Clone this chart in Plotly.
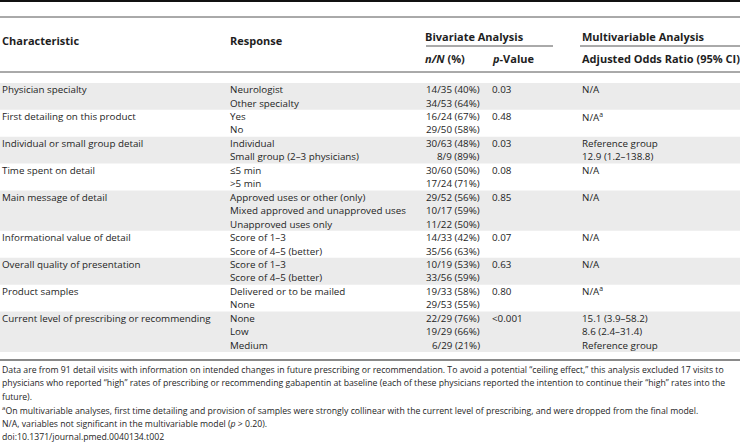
import plotly.graph_objects as go

# ---------------- data ----------------
characteristics = [
    "Physician specialty",
    "First detailing on this product",
    "Individual or small group detail",
    "Time spent on detail",
    "Main message of detail",
    "Informational value of detail",
    "Overall quality of presentation",
    "Product samples",
    "Current level of prescribing or recommending",
]
responses = [
    ["Neurologist", "Other specialty"],
    ["Yes", "No"],
    ["Individual", "Small group (2–3 physicians)"],
    ["≤5 min", "&gt;5 min"],
    ["Approved uses or other (only)", "Mixed approved and unapproved uses", "Unapproved uses only"],
    ["Score of 1–3", "Score of 4–5 (better)"],
    ["Score of 1–3", "Score of 4–5 (better)"],
    ["Delivered or to be mailed", "None"],
    ["None", "Low", "Medium"],
]
n_of_N = [
    ["14/35 (40%)", "34/53 (64%)"],
    ["16/24 (67%)", "29/50 (58%)"],
    ["30/63 (48%)", "8/9 (89%)"],
    ["30/60 (50%)", "17/24 (71%)"],
    ["29/52 (56%)", "10/17 (59%)", "11/22 (50%)"],
    ["14/33 (42%)", "35/56 (63%)"],
    ["10/19 (53%)", "33/56 (59%)"],
    ["19/33 (58%)", "29/53 (55%)"],
    ["22/29 (76%)", "19/29 (66%)", "6/29 (21%)"],
]
p_values = ["0.03", "0.48", "0.03", "0.08", "0.85", "0.07", "0.63", "0.80", "&lt;0.001"]
odds_ratios = [
    ["N/A"],
    ["N/A<sup>a</sup>"],
    ["Reference group", "12.9 (1.2–138.8)"],
    ["N/A"],
    ["N/A"],
    ["N/A"],
    ["N/A"],
    ["N/A<sup>a</sup>"],
    ["15.1 (3.9–58.2)", "8.6 (2.4–31.4)", "Reference group"],
]
header_top = ["Characteristic", "Response", "Bivariate Analysis", "Multivariable Analysis"]
header_sub = ["<i>n/N</i> (%)", "<i>p</i>-Value", "Adjusted Odds Ratio (95% CI)"]
footnotes = [
    "Data are from 91 detail visits with information on intended changes in future prescribing or recommendation. To avoid a potential “ceiling effect,” this analysis excluded 17 visits to",
    "physicians who reported “high” rates of prescribing or recommending gabapentin at baseline (each of these physicians reported the intention to continue their “high” rates into the",
    "future).",
    "<sup>a</sup>On multivariable analyses, first time detailing and provision of samples were strongly collinear with the current level of prescribing, and were dropped from the final model.",
    "N/A, variables not significant in the multivariable model (<i>p</i> &gt; 0.20).",
    "doi:10.1371/journal.pmed.0040134.t002",
]

# ---------------- layout ----------------
W, H = 740, 446
FONT = "Open Sans"
FS = 9.8
FS_HEAD = 11
FS_FOOT = 8.7
TXT = "#1e1e1e"
SHADE = "#ebebeb"

X_CHAR, X_RESP, X_NN_RIGHT, X_P, X_OR = 1, 229, 481, 491, 581
LINE0, PITCH = 89.6, 13.45

fig = go.Figure()
ann = []
shapes = []


def txt(x, y, s, anchor="left", bold=False, size=FS, color=TXT):
    ann.append(dict(x=x, y=y, xref="x", yref="y", text=(f"<b>{s}</b>" if bold else s),
                    showarrow=False, xanchor=anchor, yanchor="middle",
                    font=dict(family=FONT, size=size, color=color), borderpad=0))


# header
txt(X_CHAR, 40, header_top[0], bold=True, size=FS_HEAD)
txt(X_RESP, 40, header_top[1], bold=True, size=FS_HEAD)
txt(424, 36, header_top[2], bold=True, size=FS_HEAD)
txt(X_OR, 36, header_top[3], bold=True, size=FS_HEAD)
txt(424, 58, header_sub[0], bold=True, size=FS_HEAD)
txt(X_P, 58, header_sub[1], bold=True, size=FS_HEAD)
txt(X_OR, 58, header_sub[2], bold=True, size=FS_HEAD)

# header rules
shapes.append(dict(type="line", x0=0, x1=W, y0=1, y1=1, line=dict(color="#111111", width=2)))
shapes.append(dict(type="line", x0=0, x1=W, y0=17, y1=17, line=dict(color="#555555", width=1)))
shapes.append(dict(type="line", x0=426, x1=553, y0=46, y1=46, line=dict(color="#555555", width=1)))
shapes.append(dict(type="line", x0=580, x1=W, y0=46, y1=46, line=dict(color="#555555", width=1)))
shapes.append(dict(type="line", x0=0, x1=W, y0=72, y1=72, line=dict(color="#555555", width=1)))

# body
line = 0
for g, char in enumerate(characteristics):
    n = len(responses[g])
    top = LINE0 + (line - 0.5) * PITCH
    bot = LINE0 + (line + n - 0.5) * PITCH
    if g % 2 == 0:
        shapes.append(dict(type="rect", x0=0, x1=W, y0=top, y1=bot, fillcolor=SHADE,
                           line=dict(width=0), layer="below"))
    y0 = LINE0 + line * PITCH
    txt(X_CHAR, y0, char)
    txt(X_P, y0, p_values[g])
    for i in range(n):
        y = LINE0 + (line + i) * PITCH
        txt(X_RESP, y, responses[g][i])
        txt(X_NN_RIGHT, y, n_of_N[g][i], anchor="right")
    for i, o in enumerate(odds_ratios[g]):
        txt(X_OR, LINE0 + (line + i) * PITCH, o)
    line += n

bottom_rule = LINE0 + (line - 0.5) * PITCH + 8
shapes.append(dict(type="line", x0=0, x1=W, y0=bottom_rule, y1=bottom_rule,
                   line=dict(color="#8a8a8a", width=2)))

# footnotes
FOOT0, FPITCH = 369.5, 13.5
for i, f in enumerate(footnotes):
    txt(X_CHAR, FOOT0 + i * FPITCH, f, size=FS_FOOT)

fig.update_layout(
    width=W, height=H, margin=dict(l=0, r=0, t=0, b=0),
    paper_bgcolor="white", plot_bgcolor="white",
    xaxis=dict(range=[0, W], visible=False, fixedrange=True),
    yaxis=dict(range=[H, 0], visible=False, fixedrange=True),
    annotations=ann, shapes=shapes, showlegend=False,
)
fig.write_html("out.html", config={"displayModeBar": False},
               post_script="document.body.style.margin='0';document.body.style.overflow='hidden';")
